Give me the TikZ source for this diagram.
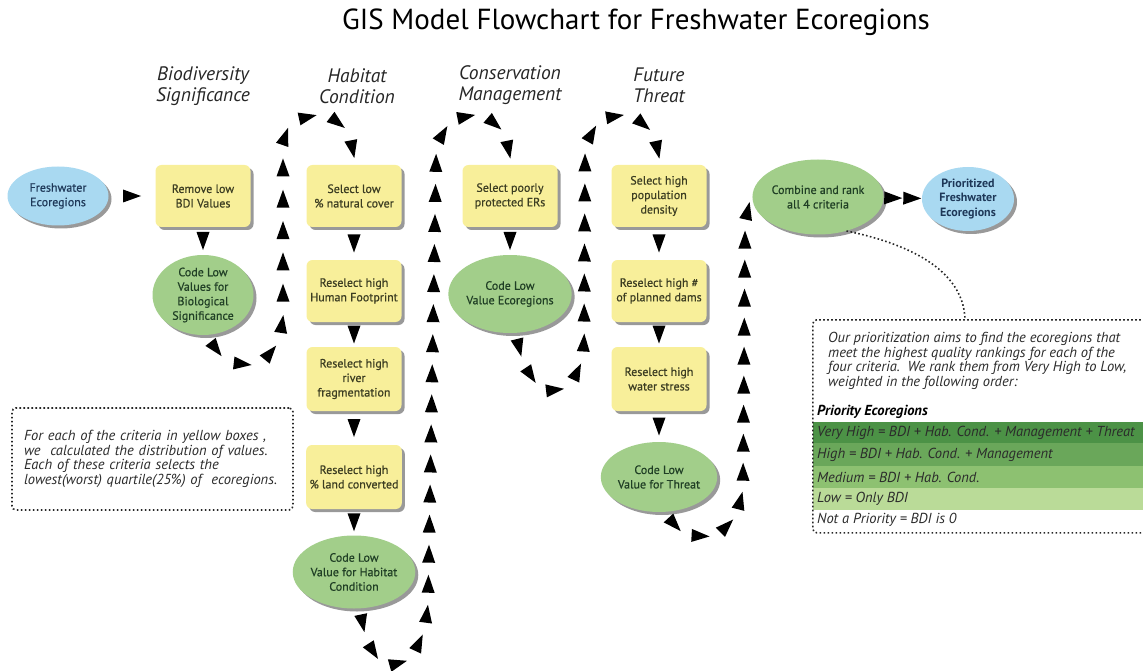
\documentclass[tikz,border=0pt]{standalone}
\usepackage{fontspec}
\setmainfont{PT Sans}
\newfontfamily\semibold[FakeBold=0.6]{PT Sans}
\usetikzlibrary{shapes.geometric,shadows,decorations.markings}

\definecolor{boxyellow}{HTML}{F8EF9A}
\definecolor{ovalgreen}{HTML}{A2CE8A}
\definecolor{ovalblue}{HTML}{A9D9F1}
\definecolor{txtolive}{HTML}{3C3D22}
\definecolor{txtgreen}{HTML}{203F25}
\definecolor{txtblue}{HTML}{1E3858}
\definecolor{notegray}{HTML}{2B2B2B}
\definecolor{rowA}{HTML}{4C9246}
\definecolor{rowB}{HTML}{6AA75A}
\definecolor{rowC}{HTML}{8DC171}
\definecolor{rowD}{HTML}{BADB98}

\tikzset{
  boxfont/.style={font=\semibold\fontsize{12}{14.5}\selectfont},
  softshadow/.style={drop shadow={shadow xshift=3pt,shadow yshift=-3pt,opacity=.4,fill=black}},
  criterion/.style={rectangle,rounded corners=6pt,minimum width=95,minimum height=62,
    fill=boxyellow,text=txtolive,align=center,boxfont,softshadow},
  coded/.style={ellipse,inner sep=0pt,fill=ovalgreen,text=txtgreen,align=center,boxfont,softshadow},
  source/.style={ellipse,inner sep=0pt,fill=ovalblue,text=txtblue,align=center,boxfont,softshadow},
  header/.style={align=center,text=black!85,font=\fontsize{19.5}{21}\selectfont\itshape},
  notebox/.style={draw=black!85,line width=1.6pt,dash pattern=on 1.6pt off 2.4pt,rounded corners=4pt},
  notetext/.style={text=notegray,font=\fontsize{14.5}{14.6}\selectfont\itshape},
  trichain/.style={postaction={decorate},decoration={markings,
    mark=between positions 0.5/#1 and 1 step 1/#1 with
      {\fill[black] (-9pt,-6.5pt) -- (9pt,0pt) -- (-9pt,6.5pt) -- cycle;}}}
}

\begin{document}
\begin{tikzpicture}[x=1pt,y=-1pt]
  \useasboundingbox (0,0) rectangle (1143,671);
  \clip (0,0) rectangle (1143,671);
  \def\colbio{203}
  \def\colhab{354}
  \def\colcon{510}
  \def\colthr{659}
  \def\toprow{196}

  % title and column heads
  \node (title) at (636,22) {\fontsize{29}{32}\selectfont GIS Model Flowchart for Freshwater Ecoregions};
  \node [header] (hdbio) at (\colbio,86) {Biodiversity\\Significance};
  \node [header] (hdhab) at (357,86) {Habitat\\Condition};
  \node [header] (hdcon) at (\colcon,85) {Conservation\\Management};
  \node [header] (hdthr) at (\colthr,85) {Future\\Threat};

  % nodes
  \node [source,minimum width=101,minimum height=59] (fresh) at (58,196) {Freshwater\\Ecoregions};
  \node [criterion] (remove) at (\colbio,\toprow) {Remove low\\BDI Values};
  \node [coded,minimum width=101,minimum height=80] (cbs) at (\colbio,295) {Code Low\\Values for\\Biological\\Significance};

  \node [criterion] (natcov) at (\colhab,\toprow) {Select low\\\% natural cover};
  \node [criterion] (footpr) at (\colhab,291) {Reselect high\\Human Footprint};
  \node [criterion,minimum height=64] (riverfr) at (\colhab,379) {Reselect high\\river\\fragmentation};
  \node [criterion,minimum height=64] (landcv) at (\colhab,477) {Reselect high\\\% land converted};
  \node [coded,minimum width=101,minimum height=73] (chab) at (\colhab,572) {Code Low\\Value for Habitat\\Condition};

  \node [criterion] (poorpr) at (\colcon,\toprow) {Select poorly\\protected ERs};
  \node [coded,minimum width=101,minimum height=78] (ccon) at (\colcon,294) {Code Low\\Value Ecoregions};

  \node [criterion] (popden) at (\colthr,\toprow) {Select high\\population\\density};
  \node [criterion] (dams) at (\colthr,291) {Reselect high \#\\of planned dams};
  \node [criterion,minimum height=64] (wstress) at (\colthr,379) {Reselect high\\water stress};
  \node [coded,minimum width=98,minimum height=70] (cthr) at (\colthr,477) {Code Low\\Value for Threat};

  \node [coded,minimum width=107,minimum height=75] (combine) at (818,197) {Combine and rank\\all 4 criteria};
  \node [source,minimum width=92,minimum height=64,font=\fontsize{12}{14.5}\selectfont\bfseries] (prior) at (968,199) {Prioritized\\Freshwater\\Ecoregions};

  % straight links
  \path [trichain=1] (fresh) -- (remove);
  \path [trichain=1] (remove) -- (cbs);
  \path [trichain=1] (natcov) -- (footpr);
  \path [trichain=1] (footpr) -- (riverfr);
  \path [trichain=1] (riverfr) -- (landcv);
  \path [trichain=1] (landcv) -- (chab);
  \path [trichain=1] (poorpr) -- (ccon);
  \path [trichain=1] (popden) -- (dams);
  \path [trichain=1] (dams) -- (wstress);
  \path [trichain=1] (wstress) -- (cthr);
  \path [trichain=2] (combine) -- (prior);

  % loops between the columns
  \path [trichain=13] (cbs.-80) .. controls (212,352) and (232,366) .. (250,364)
    .. controls (270,362) and (283,340) .. (283,310) -- (283,150)
    .. controls (283,125) and (300,116) .. (318,116)
    .. controls (340,116) and (354,135) .. (natcov.north);
  \path [trichain=24] (chab.-80) .. controls (362,630) and (372,664) .. (392,664)
    .. controls (412,664) and (426,640) .. (428,600) -- (436,160)
    .. controls (437,130) and (455,116) .. (473,116)
    .. controls (495,116) and (510,135) .. (poorpr.north);
  \path [trichain=15] (ccon.-80) .. controls (518,355) and (532,390) .. (552,390)
    .. controls (572,390) and (584,368) .. (584,335) -- (585,160)
    .. controls (586,130) and (603,116) .. (620,116)
    .. controls (643,116) and (659,135) .. (popden.north);
  \path [trichain=14] (cthr.-75) .. controls (670,525) and (685,536) .. (703,536)
    .. controls (725,536) and (742,515) .. (743,480) -- (745,235)
    .. controls (745,215) and (750,201) .. (combine.west);

  % notes
  \node [notebox,notetext,minimum width=281,minimum height=102,text width=257,inner xsep=12,align=left] (critnote) at (152.5,459)
    {For each of the criteria in yellow boxes ,\\we\ \ calculated the distribution of values.\\Each of these criteria selects the\\lowest(worst) quartile(25\%) of\ \ ecoregions.};

  \fill [rowA] (813,422) rectangle (1143,443);
  \fill [rowB] (813,443) rectangle (1143,466);
  \fill [rowC] (813,466) rectangle (1143,488);
  \fill [rowD] (813,488) rectangle (1143,510);
  \node [notebox,minimum width=352,minimum height=213,anchor=north west] (rankbox) at (812,319) {};
  \node [notetext,anchor=north west,align=left,inner sep=0pt] (ranktext) at (828,332)
    {Our prioritization aims to find the ecoregions that\\meet the highest quality rankings for each of the\\four criteria.\ \ We rank them from Very High to Low,\\weighted in the following order:};
  \node [notetext,anchor=west,inner sep=0pt,font=\fontsize{14.5}{15}\selectfont\bfseries\itshape,text=black] (rankhead) at (817,412) {Priority Ecoregions};
  \node [notetext,anchor=west,inner sep=0pt] (rkvh) at (817,432.5) {Very High = BDI + Hab. Cond. + Management + Threat};
  \node [notetext,anchor=west,inner sep=0pt] (rkh) at (817,454.5) {High = BDI + Hab. Cond. + Management};
  \node [notetext,anchor=west,inner sep=0pt] (rkm) at (817,477) {Medium = BDI + Hab. Cond.};
  \node [notetext,anchor=west,inner sep=0pt] (rkl) at (817,499) {Low = Only BDI};
  \node [notetext,anchor=west,inner sep=0pt] (rkn) at (817,520) {Not a Priority = BDI is 0};

  \draw [black!85,line width=1.6pt,dash pattern=on 1.6pt off 2.4pt] (combine.-50) .. controls (905,243) and (963,268) .. ([xshift=153pt]rankbox.north west);
\end{tikzpicture}
\end{document}
